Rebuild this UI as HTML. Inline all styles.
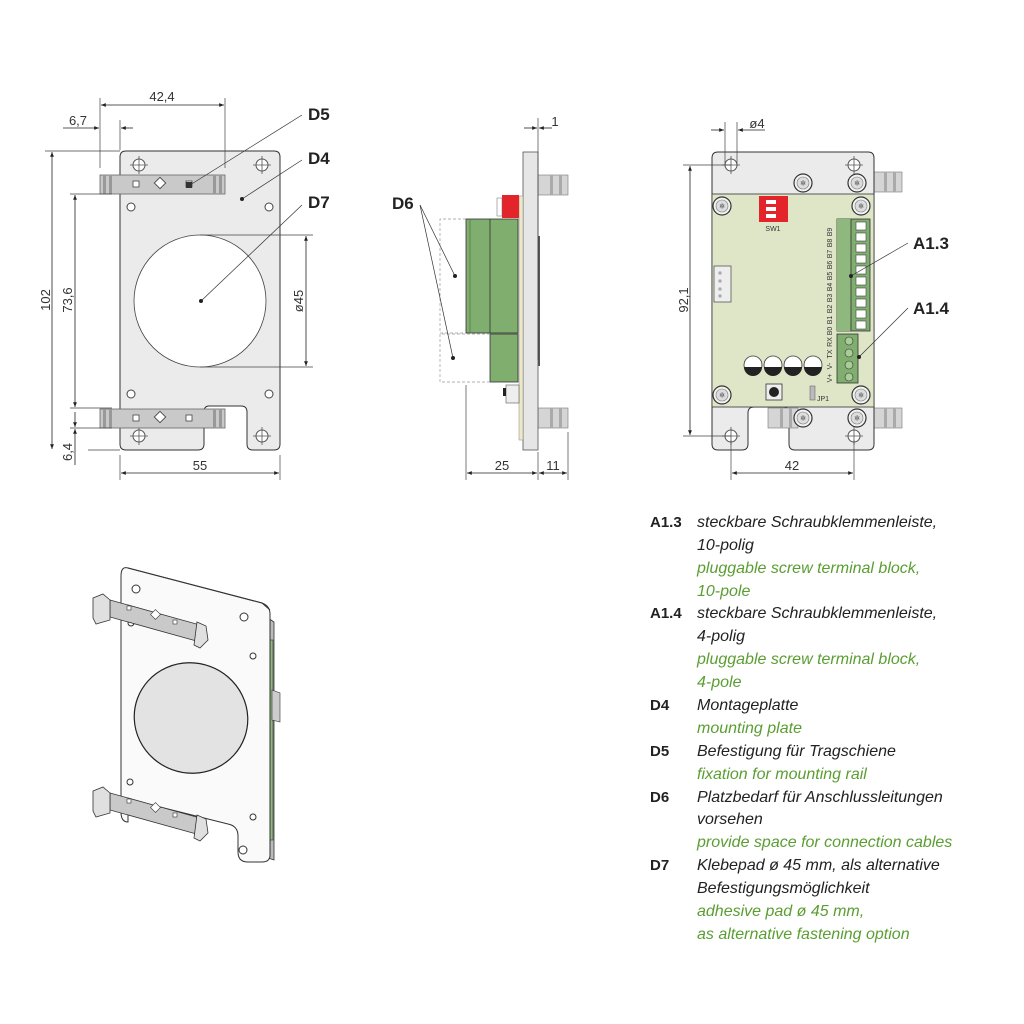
<!DOCTYPE html>
<html><head><meta charset="utf-8"><style>
html,body{margin:0;padding:0;background:#fff;width:1024px;height:1024px;overflow:hidden}
svg{display:block}
.d{font-family:"Liberation Sans",sans-serif;font-size:13px;fill:#333}
.lb{font-family:"Liberation Sans",sans-serif;font-size:17px;font-weight:bold;fill:#222}
.lg{font-family:"Liberation Sans",sans-serif;font-size:16px;font-style:italic;fill:#222}
.lgg{font-family:"Liberation Sans",sans-serif;font-size:16px;font-style:italic;fill:#5a9e32}
.lc{font-family:"Liberation Sans",sans-serif;font-size:15px;font-weight:bold;fill:#222}
.t{font-family:"Liberation Sans",sans-serif;font-size:7px;fill:#333}
</style></head><body>
<svg width="1024" height="1024" viewBox="0 0 1024 1024" xmlns="http://www.w3.org/2000/svg">
<defs>
<marker id="a" viewBox="0 0 10 10" refX="10" refY="5" markerWidth="8" markerHeight="6" orient="auto-start-reverse"><path d="M0,1 L10,5 L0,9z" fill="#222"/></marker>
<g id="ch"><circle r="6" fill="#fff" stroke="#555" stroke-width="1"/><path d="M-9,0H9M0,-9V9" stroke="#555" stroke-width="0.8"/></g>
<g id="sc"><circle r="9" fill="#f2f2f2" stroke="#333" stroke-width="1.2"/><circle r="6" fill="#ddd" stroke="#777" stroke-width="0.6"/><text x="0" y="2.5" text-anchor="middle" font-size="7" fill="#444" font-family="Liberation Sans">✲</text></g>
<g id="rail"><rect x="0" y="0" width="125" height="19" fill="#c9c9c9" stroke="#666" stroke-width="0.8"/><rect x="3" y="0" width="3" height="19" fill="#999"/><rect x="9" y="0" width="3" height="19" fill="#999"/><rect x="113" y="0" width="3" height="19" fill="#999"/><rect x="119" y="0" width="3" height="19" fill="#999"/><rect x="33" y="6" width="6" height="6" fill="#fff" stroke="#444" stroke-width="0.8"/><rect x="56" y="4" width="8" height="8" transform="rotate(45 60 8)" fill="#fff" stroke="#444" stroke-width="0.9"/><rect x="86" y="6" width="6" height="6" fill="#fff" stroke="#444" stroke-width="0.8"/></g>
<g id="peg"><rect x="0" y="0" width="30" height="20" fill="#d5d5d5" stroke="#777" stroke-width="0.6"/><rect x="12" y="0" width="3" height="20" fill="#aaa"/><rect x="21" y="0" width="3" height="20" fill="#aaa"/></g>
</defs>

<!-- ========== LEFT VIEW ========== -->
<path d="M126,151 H274 Q280,151 280,157 V444 Q280,450 274,450 H253 Q247,450 247,444 V412 Q247,406 241,406 H209 Q204,406 204,412 V444 Q204,450 198,450 H126 Q120,450 120,444 V157 Q120,151 126,151Z" fill="#ebebeb" stroke="#333" stroke-width="1"/>
<circle cx="200" cy="301" r="66" fill="#fff" stroke="#444" stroke-width="0.8"/>
<use href="#ch" x="139" y="165"/><use href="#ch" x="262" y="165"/><use href="#ch" x="139" y="436"/><use href="#ch" x="262" y="436"/>
<circle cx="131" cy="207" r="4" fill="#fff" stroke="#444"/><circle cx="269" cy="207" r="4" fill="#fff" stroke="#444"/>
<circle cx="131" cy="394" r="4" fill="#fff" stroke="#444"/><circle cx="269" cy="394" r="4" fill="#fff" stroke="#444"/>
<use href="#rail" x="100" y="175"/><use href="#rail" x="100" y="409"/>
<rect x="186" y="182" width="6" height="6" fill="#333"/>
<g stroke="#444" stroke-width="0.7" fill="none">
<path d="M100,98V168M225,98V168M120,120V150M45,151H120M88,450H120M70,194H112M70,408H112M70,428H112M200,235H313M200,367H313M120,455V480M280,455V480"/>
</g>
<g stroke="#222" stroke-width="0.8" fill="none">
<line x1="101" y1="105" x2="224" y2="105" marker-start="url(#a)" marker-end="url(#a)"/>
<line x1="63" y1="128" x2="99" y2="128" marker-end="url(#a)"/><line x1="133" y1="128" x2="121" y2="128" marker-end="url(#a)"/>
<line x1="52" y1="152" x2="52" y2="449" marker-start="url(#a)" marker-end="url(#a)"/>
<line x1="75" y1="195" x2="75" y2="407" marker-start="url(#a)" marker-end="url(#a)"/>
<line x1="75" y1="412" x2="75" y2="427" marker-end="url(#a)"/><line x1="75" y1="465" x2="75" y2="429" marker-end="url(#a)"/>
<line x1="306" y1="236" x2="306" y2="366" marker-start="url(#a)" marker-end="url(#a)"/>
<line x1="121" y1="473" x2="279" y2="473" marker-start="url(#a)" marker-end="url(#a)"/>
</g>
<text class="d" x="162" y="101" text-anchor="middle">42,4</text>
<text class="d" x="78" y="125" text-anchor="middle">6,7</text>
<text class="d" transform="translate(50,300) rotate(-90)" text-anchor="middle">102</text>
<text class="d" transform="translate(72,300) rotate(-90)" text-anchor="middle">73,6</text>
<text class="d" transform="translate(72,452) rotate(-90)" text-anchor="middle">6,4</text>
<text class="d" transform="translate(303,301) rotate(-90)" text-anchor="middle">ø45</text>
<text class="d" x="200" y="470" text-anchor="middle">55</text>
<g stroke="#333" stroke-width="0.7"><line x1="190" y1="185" x2="302" y2="115"/><line x1="242" y1="199" x2="302" y2="160"/><line x1="201" y1="301" x2="302" y2="205"/></g>
<circle cx="242" cy="199" r="2" fill="#222"/><circle cx="201" cy="301" r="2" fill="#222"/>
<text class="lb" x="308" y="120">D5</text><text class="lb" x="308" y="164">D4</text><text class="lb" x="308" y="208">D7</text>

<!-- ========== SIDE VIEW ========== -->
<use href="#peg" x="538" y="175"/><use href="#peg" x="538" y="408"/>
<rect x="523" y="152" width="15" height="298" fill="#e6e6e6" stroke="#555" stroke-width="0.8"/>
<rect x="538" y="236" width="2" height="130" fill="#555"/>
<rect x="519" y="196" width="4" height="244" fill="#ece9c8" stroke="#888" stroke-width="0.5"/>
<rect x="502" y="195" width="17" height="23" fill="#e3242b"/>
<rect x="497" y="198" width="5" height="18" fill="#fff" stroke="#666" stroke-width="0.5"/>
<rect x="466" y="219" width="52" height="114" fill="#7fae6f" stroke="#333" stroke-width="0.8"/>
<line x1="490" y1="219" x2="490" y2="333" stroke="#333" stroke-width="0.8"/>
<line x1="470" y1="219" x2="470" y2="333" stroke="#4e7a44" stroke-width="0.8"/>
<rect x="490" y="334" width="28" height="48" fill="#7fae6f" stroke="#333" stroke-width="0.8"/>
<rect x="506" y="385" width="13" height="18" fill="#eee" stroke="#555" stroke-width="0.6"/><rect x="503" y="388" width="3" height="8" fill="#222"/>
<g stroke="#999" stroke-width="0.7" stroke-dasharray="3,2" fill="none"><path d="M466,219H440V333H466M490,334H440V382H490"/></g>
<g stroke="#333" stroke-width="0.7"><line x1="420" y1="205" x2="455" y2="276"/><line x1="420" y1="205" x2="453" y2="358"/></g>
<circle cx="455" cy="276" r="2" fill="#222"/><circle cx="453" cy="358" r="2" fill="#222"/>
<text class="lb" x="392" y="209">D6</text>
<g stroke="#444" stroke-width="0.7"><path d="M538,118V360M466,385V480M538,452V480M568,432V480"/></g>
<g stroke="#222" stroke-width="0.8" fill="none">
<line x1="524" y1="128" x2="537" y2="128" marker-end="url(#a)"/><line x1="552" y1="128" x2="539" y2="128" marker-end="url(#a)"/>
<line x1="467" y1="473" x2="537" y2="473" marker-start="url(#a)" marker-end="url(#a)"/>
<line x1="539" y1="473" x2="567" y2="473" marker-start="url(#a)" marker-end="url(#a)"/>
</g>
<text class="d" x="555" y="126" text-anchor="middle">1</text>
<text class="d" x="502" y="470" text-anchor="middle">25</text>
<text class="d" x="553" y="470" text-anchor="middle">11</text>

<!-- ========== RIGHT VIEW ========== -->
<use href="#peg" x="872" y="172"/><use href="#peg" x="872" y="408"/>
<path d="M718,152 H868 Q874,152 874,158 V444 Q874,450 868,450 H795 Q789,450 789,444 V413 Q789,407 783,407 H754 Q748,407 748,413 V444 Q748,450 742,450 H718 Q712,450 712,444 V158 Q712,152 718,152Z" fill="#ebebeb" stroke="#333" stroke-width="1"/>
<rect x="712" y="194" width="162" height="213" fill="#dfe6c8" stroke="#333" stroke-width="0.8"/>
<use href="#peg" x="768" y="408"/>
<use href="#ch" x="731" y="165"/><use href="#ch" x="854" y="165"/><use href="#ch" x="731" y="436"/><use href="#ch" x="854" y="436"/>
<use href="#sc" x="803" y="183"/><use href="#sc" x="857" y="183"/><use href="#sc" x="722" y="206"/><use href="#sc" x="861" y="206"/>
<use href="#sc" x="722" y="395"/><use href="#sc" x="861" y="395"/><use href="#sc" x="803" y="418"/><use href="#sc" x="857" y="418"/>
<rect x="759" y="196" width="29" height="26" fill="#e3242b"/>
<rect x="766" y="200" width="10" height="4" fill="#fff"/><rect x="766" y="207" width="10" height="4" fill="#fff"/><rect x="766" y="214" width="10" height="4" fill="#fff"/>
<text class="t" x="773" y="231" text-anchor="middle">SW1</text>
<rect x="714" y="266" width="17" height="36" fill="#eee" stroke="#555" stroke-width="0.8"/>
<rect x="719" y="272" width="2" height="2" fill="none" stroke="#555" stroke-width="0.5"/><rect x="719" y="280" width="2" height="2" fill="none" stroke="#555" stroke-width="0.5"/><rect x="719" y="288" width="2" height="2" fill="none" stroke="#555" stroke-width="0.5"/><rect x="719" y="295" width="2" height="2" fill="none" stroke="#555" stroke-width="0.5"/>
<g stroke="#333" stroke-width="0.8">
<circle cx="753" cy="365" r="9" fill="#fff"/><circle cx="773" cy="365" r="9" fill="#fff"/><circle cx="793" cy="365" r="9" fill="#fff"/><circle cx="813" cy="365" r="9" fill="#fff"/>
</g>
<g fill="#222"><path d="M744,367 A9,9 0 0 0 762,367Z"/><path d="M764,367 A9,9 0 0 0 782,367Z"/><path d="M784,367 A9,9 0 0 0 802,367Z"/><path d="M804,367 A9,9 0 0 0 822,367Z"/></g>
<rect x="766" y="384" width="16" height="16" fill="#eee" stroke="#333" stroke-width="0.8"/><circle cx="774" cy="392" r="5" fill="#222"/>
<rect x="810" y="386" width="5" height="14" fill="#bbb" stroke="#555" stroke-width="0.5"/><text class="t" x="817" y="401">JP1</text>
<rect x="837" y="219" width="33" height="112" fill="#7fae6f" stroke="#333" stroke-width="0.8"/>
<rect x="837" y="219" width="14" height="112" fill="#8fb87e"/>
<line x1="851" y1="219" x2="851" y2="331" stroke="#333" stroke-width="0.8"/>
<g fill="#fff" stroke="#444" stroke-width="0.6">
<rect x="856" y="222" width="10" height="8"/><rect x="856" y="233" width="10" height="8"/><rect x="856" y="244" width="10" height="8"/><rect x="856" y="255" width="10" height="8"/><rect x="856" y="266" width="10" height="8"/><rect x="856" y="277" width="10" height="8"/><rect x="856" y="288" width="10" height="8"/><rect x="856" y="299" width="10" height="8"/><rect x="856" y="310" width="10" height="8"/><rect x="856" y="321" width="10" height="8"/>
</g>
<rect x="837" y="334" width="21" height="49" fill="#7fae6f" stroke="#333" stroke-width="0.8"/>
<g fill="#a9cc98" stroke="#333" stroke-width="0.6"><circle cx="849" cy="341" r="4"/><circle cx="849" cy="353" r="4"/><circle cx="849" cy="365" r="4"/><circle cx="849" cy="377" r="4"/></g>
<g class="t" font-size="8">
<text transform="translate(832,232) rotate(-90)" text-anchor="middle">B9</text>
<text transform="translate(832,243) rotate(-90)" text-anchor="middle">B8</text>
<text transform="translate(832,254) rotate(-90)" text-anchor="middle">B7</text>
<text transform="translate(832,265) rotate(-90)" text-anchor="middle">B6</text>
<text transform="translate(832,276) rotate(-90)" text-anchor="middle">B5</text>
<text transform="translate(832,287) rotate(-90)" text-anchor="middle">B4</text>
<text transform="translate(832,298) rotate(-90)" text-anchor="middle">B3</text>
<text transform="translate(832,309) rotate(-90)" text-anchor="middle">B2</text>
<text transform="translate(832,320) rotate(-90)" text-anchor="middle">B1</text>
<text transform="translate(832,331) rotate(-90)" text-anchor="middle">B0</text>
<text transform="translate(832,342) rotate(-90)" text-anchor="middle">RX</text>
<text transform="translate(832,354) rotate(-90)" text-anchor="middle">TX</text>
<text transform="translate(832,366) rotate(-90)" text-anchor="middle">V-</text>
<text transform="translate(832,378) rotate(-90)" text-anchor="middle">V+</text>
</g>
<g stroke="#333" stroke-width="0.7"><line x1="851" y1="276" x2="908" y2="243"/><line x1="859" y1="357" x2="908" y2="308"/></g>
<circle cx="851" cy="276" r="2" fill="#222"/><circle cx="859" cy="357" r="2" fill="#222"/>
<text class="lb" x="913" y="249">A1.3</text><text class="lb" x="913" y="314">A1.4</text>
<g stroke="#444" stroke-width="0.7"><path d="M725,122V165M737,122V165M683,165H731M683,436H731M731,440V480M854,440V480"/></g>
<g stroke="#222" stroke-width="0.8" fill="none">
<line x1="711" y1="130" x2="724" y2="130" marker-end="url(#a)"/><line x1="765" y1="130" x2="738" y2="130" marker-end="url(#a)"/>
<line x1="690" y1="166" x2="690" y2="435" marker-start="url(#a)" marker-end="url(#a)"/>
<line x1="732" y1="473" x2="853" y2="473" marker-start="url(#a)" marker-end="url(#a)"/>
</g>
<text class="d" x="757" y="128" text-anchor="middle">ø4</text>
<text class="d" transform="translate(688,300) rotate(-90)" text-anchor="middle">92,1</text>
<text class="d" x="792" y="470" text-anchor="middle">42</text>

<!-- ========== ISO VIEW ========== -->
<path d="M268,618 L274,622 L274,860 L268,858Z" fill="#bbb" stroke="#333" stroke-width="0.8"/>
<rect x="268" y="640" width="5" height="200" fill="#8fb87e" stroke="#333" stroke-width="0.6"/>
<path d="M272,690 L280,693 V722 L272,720Z" fill="#ccc" stroke="#333" stroke-width="0.6"/>
<path d="M128,568 L262,603 Q270,606 270,614 V855 Q270,862 262,862 H248 Q238,862 238,852 V836 Q238,826 228,824 L140,802 Q128,800 128,812 V822 Q121,822 121,812 V576 Q121,566 128,568Z" fill="#fafafa" stroke="#333" stroke-width="1"/>
<path d="M128,568 L262,603 L270,610" fill="none" stroke="#333" stroke-width="1"/>
<ellipse cx="191" cy="718" rx="57" ry="55" transform="rotate(20 191 718)" fill="#e3e3e3" stroke="#222" stroke-width="1.2"/>
<circle cx="136" cy="589" r="4" fill="#fff" stroke="#333"/><circle cx="244" cy="617" r="4" fill="#fff" stroke="#333"/>
<circle cx="131" cy="623" r="3" fill="#fff" stroke="#333"/><circle cx="253" cy="656" r="3" fill="#fff" stroke="#333"/>
<circle cx="130" cy="782" r="3" fill="#fff" stroke="#333"/><circle cx="253" cy="817" r="3" fill="#fff" stroke="#333"/>
<circle cx="243" cy="850" r="4" fill="#fff" stroke="#333"/>
<g stroke="#333" stroke-width="0.8">
<path d="M110,600 L200,625 L200,642 L110,617Z" fill="#c9c9c9"/>
<path d="M93,598 L103,594 L110,600 L110,620 L96,624 L93,618Z" fill="#e0e0e0"/>
<path d="M197,622 L206,626 L208,640 L200,648 L194,645Z" fill="#e0e0e0"/>
<path d="M110,793 L200,818 L200,835 L110,810Z" fill="#c9c9c9"/>
<path d="M93,791 L103,787 L110,793 L110,813 L96,817 L93,811Z" fill="#e0e0e0"/>
<path d="M197,815 L206,819 L208,833 L200,841 L194,838Z" fill="#e0e0e0"/>
</g>
<g fill="#fff" stroke="#333" stroke-width="0.6">
<rect x="127" y="606" width="4" height="4"/><rect x="152" y="611" width="7" height="7" transform="rotate(45 155.5 614.5)"/><rect x="173" y="620" width="4" height="4"/>
<rect x="127" y="799" width="4" height="4"/><rect x="152" y="804" width="7" height="7" transform="rotate(45 155.5 807.5)"/><rect x="173" y="813" width="4" height="4"/>
</g>

<!-- ========== LEGEND ========== -->
<text class="lc" x="650" y="527">A1.3</text>
<text class="lg" x="697" y="527">steckbare Schraubklemmenleiste,</text>
<text class="lg" x="697" y="550">10-polig</text>
<text class="lgg" x="697" y="573">pluggable screw terminal block,</text>
<text class="lgg" x="697" y="596">10-pole</text>
<text class="lc" x="650" y="618">A1.4</text>
<text class="lg" x="697" y="618">steckbare Schraubklemmenleiste,</text>
<text class="lg" x="697" y="641">4-polig</text>
<text class="lgg" x="697" y="664">pluggable screw terminal block,</text>
<text class="lgg" x="697" y="687">4-pole</text>
<text class="lc" x="650" y="710">D4</text>
<text class="lg" x="697" y="710">Montageplatte</text>
<text class="lgg" x="697" y="733">mounting plate</text>
<text class="lc" x="650" y="756">D5</text>
<text class="lg" x="697" y="756">Befestigung für Tragschiene</text>
<text class="lgg" x="697" y="779">fixation for mounting rail</text>
<text class="lc" x="650" y="802">D6</text>
<text class="lg" x="697" y="802">Platzbedarf für Anschlussleitungen</text>
<text class="lg" x="697" y="824">vorsehen</text>
<text class="lgg" x="697" y="847">provide space for connection cables</text>
<text class="lc" x="650" y="870">D7</text>
<text class="lg" x="697" y="870">Klebepad ø 45 mm, als alternative</text>
<text class="lg" x="697" y="893">Befestigungsmöglichkeit</text>
<text class="lgg" x="697" y="916">adhesive pad ø 45 mm,</text>
<text class="lgg" x="697" y="939">as alternative fastening option</text>
</svg>
</body></html>
